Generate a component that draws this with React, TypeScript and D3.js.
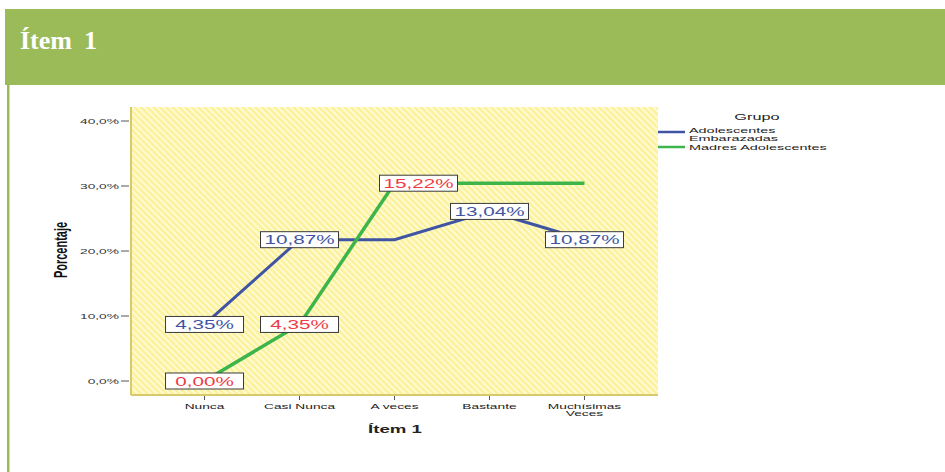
import React from "react";
import * as d3 from "d3";

const categories = ["Nunca", "Casi Nunca", "A veces", "Bastante", "Muchísimas Veces"];
const categoryLines = [["Nunca"], ["Casi Nunca"], ["A veces"], ["Bastante"], ["Muchísimas", "Veces"]];
const adolescentesEmbarazadas = [8.7, 21.74, 21.74, 26.09, 21.74];
const madresAdolescentes = [0, 8.7, 30.43, 30.43, 30.43];
const adolescentesLabels = ["4,35%", "10,87%", "", "13,04%", "10,87%"];
const madresLabels = ["0,00%", "4,35%", "15,22%", "", ""];
const yTicks = [0, 10, 20, 30, 40];
const yTickLabels = ["0,0%", "10,0%", "20,0%", "30,0%", "40,0%"];
const seriesNames = [["Adolescentes", "Embarazadas"], ["Madres Adolescentes"]];

const SX = 1.72;
const FONT = "Liberation Sans, Arial, sans-serif";
const BLUE = "#3f55a4";
const GREEN = "#3db54a";
const RED = "#ee3b44";

export default function App() {
  const plotL = 131, plotR = 658, plotT = 107, plotB = 395;
  const x = d3.scalePoint<string>().domain(categories).range([plotL, plotR]).padding(0.774);
  const y = d3.scaleLinear().domain([0, 40]).range([381, 121]);
  const line = d3.line<number>().x((_, i) => x(categories[i]) as number).y((d) => y(d));

  const labelNudge: Record<string, number> = { "m2": 24 };

  const renderLabel = (txt: string, i: number, val: number, color: string, key: string) => {
    if (!txt) return null;
    const cx = (x(categories[i]) as number) + (labelNudge[key] || 0);
    const cy = y(val);
    const w = 78, h = 16;
    return (
      <g key={key}>
        <rect x={cx - w / 2} y={cy - h / 2} width={w} height={h} fill="#fff" stroke="#3a3a3a" strokeWidth={1} />
        <text transform={`translate(${cx},${cy + 4.5}) scale(${SX},1)`} textAnchor="middle" fontFamily={FONT} fontSize={12} fill={color}>
          {txt}
        </text>
      </g>
    );
  };

  return (
    <svg width={945} height={472} style={{ position: "absolute", left: 0, top: 0, background: "#fff" }}>
      <defs>
        <pattern id="hatch" width={4.5} height={4.5} patternUnits="userSpaceOnUse" patternTransform="rotate(45)">
          <rect width={4.5} height={4.5} fill="#fcf29e" />
          <rect width={4.5} height={1.8} fill="#fffbd6" />
        </pattern>
      </defs>
      {/* header */}
      <rect x={5} y={9} width={940} height={76} fill="#9bbb59" />
      <rect x={7} y={85} width={2.5} height={387} fill="#9bbb59" />
      <text x={20} y={49} fontFamily="Liberation Serif, Times New Roman, serif" fontWeight="bold" fontSize={26} fill="#fff">
        Ítem
      </text>
      <text x={84} y={49} fontFamily="Liberation Serif, Times New Roman, serif" fontWeight="bold" fontSize={26} fill="#fff">
        1
      </text>

      {/* plot area */}
      <rect x={plotL} y={plotT} width={plotR - plotL} height={plotB - plotT} fill="url(#hatch)" />
      <line x1={plotL} x2={plotL} y1={plotT} y2={plotB} stroke="#d8ca6c" strokeWidth={2} />
      <line x1={plotL} x2={plotR} y1={plotB} y2={plotB} stroke="#d8ca6c" strokeWidth={2} />

      {/* y axis */}
      {yTicks.map((t, i) => (
        <g key={t}>
          <line x1={121} x2={129} y1={y(t)} y2={y(t)} stroke="#555" strokeWidth={1} />
          <text transform={`translate(119,${y(t) + 3}) scale(${SX},1)`} textAnchor="end" fontFamily={FONT} fontSize={8} fill="#333">
            {yTickLabels[i]}
          </text>
        </g>
      ))}
      <text transform={`translate(67,250) scale(1.6,1) rotate(-90)`} textAnchor="middle" fontFamily={FONT} fontWeight="bold" fontSize={11} fill="#111">
        Porcentaje
      </text>

      {/* x axis */}
      {categories.map((c, i) => {
        const cx = x(c) as number;
        return (
          <g key={c}>
            <line x1={cx} x2={cx} y1={396} y2={400} stroke="#555" strokeWidth={1} />
            {categoryLines[i].map((ln, j) => (
              <text key={j} transform={`translate(${cx},${409 + j * 7}) scale(${SX},1)`} textAnchor="middle" fontFamily={FONT} fontSize={8} fill="#222">
                {ln}
              </text>
            ))}
          </g>
        );
      })}
      <text transform={`translate(395,433) scale(1.7,1)`} textAnchor="middle" fontFamily={FONT} fontWeight="bold" fontSize={11} fill="#222">
        Ítem 1
      </text>

      {/* lines */}
      <path d={line(adolescentesEmbarazadas) || ""} fill="none" stroke={BLUE} strokeWidth={3} />
      <path d={line(madresAdolescentes) || ""} fill="none" stroke={GREEN} strokeWidth={3.5} />

      {/* labels */}
      {adolescentesLabels.map((t, i) => renderLabel(t, i, adolescentesEmbarazadas[i], BLUE, "a" + i))}
      {madresLabels.map((t, i) => renderLabel(t, i, madresAdolescentes[i], RED, "m" + i))}

      {/* legend */}
      <text transform={`translate(757,120) scale(${SX},1)`} textAnchor="middle" fontFamily={FONT} fontSize={9.5} fill="#222">
        Grupo
      </text>
      <line x1={658} x2={685} y1={132} y2={132} stroke={BLUE} strokeWidth={2.5} />
      <line x1={658} x2={685} y1={147} y2={147} stroke={GREEN} strokeWidth={2.5} />
      <text transform={`translate(689,132.5) scale(1.85,1)`} fontFamily={FONT} fontSize={7.8} fill="#222">
        {seriesNames[0][0]}
      </text>
      <text transform={`translate(689,140.5) scale(1.85,1)`} fontFamily={FONT} fontSize={7.8} fill="#222">
        {seriesNames[0][1]}
      </text>
      <text transform={`translate(689,150) scale(1.85,1)`} fontFamily={FONT} fontSize={7.8} fill="#222">
        {seriesNames[1][0]}
      </text>
    </svg>
  );
}
